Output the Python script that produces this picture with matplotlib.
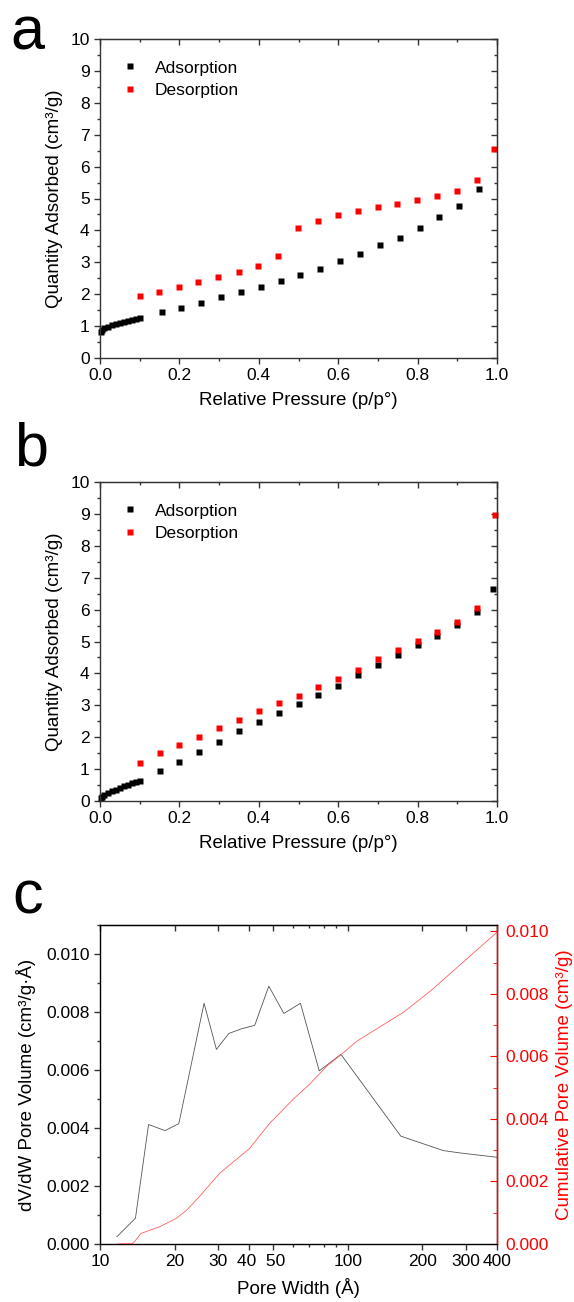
import numpy as np
import matplotlib
matplotlib.use('Agg')
import matplotlib.pyplot as plt
from matplotlib.ticker import MultipleLocator, FixedLocator, NullFormatter, FormatStrFormatter

plt.rcParams['font.family'] = ['Liberation Sans', 'DejaVu Sans']

# panel a - isotherm
a_ads_x = [0.002, 0.005, 0.01, 0.02, 0.03, 0.04, 0.05, 0.06, 0.07, 0.08, 0.09, 0.1,
           0.155, 0.205, 0.255, 0.305, 0.355, 0.405, 0.455, 0.505, 0.555, 0.605,
           0.655, 0.705, 0.755, 0.805, 0.855, 0.905, 0.955]
a_ads_y = [0.82, 0.88, 0.93, 0.98, 1.02, 1.06, 1.09, 1.12, 1.15, 1.18, 1.21, 1.25,
           1.43, 1.58, 1.73, 1.90, 2.08, 2.24, 2.41, 2.61, 2.80, 3.03,
           3.26, 3.53, 3.77, 4.09, 4.43, 4.77, 5.30]
a_des_x = [0.1, 0.149, 0.199, 0.248, 0.298, 0.349, 0.399, 0.448, 0.499, 0.549, 0.599,
           0.649, 0.699, 0.748, 0.798, 0.848, 0.898, 0.949, 0.993]
a_des_y = [1.94, 2.08, 2.22, 2.39, 2.54, 2.69, 2.87, 3.20, 4.06, 4.30, 4.47,
           4.61, 4.72, 4.83, 4.95, 5.08, 5.25, 5.59, 6.54]

# panel b - isotherm
b_ads_x = [0.003, 0.006, 0.01, 0.02, 0.03, 0.04, 0.05, 0.06, 0.07, 0.08, 0.09, 0.1,
           0.15, 0.2, 0.25, 0.3, 0.35, 0.4, 0.45, 0.5, 0.55, 0.6,
           0.65, 0.7, 0.75, 0.8, 0.85, 0.9, 0.95, 0.99]
b_ads_y = [0.10, 0.14, 0.18, 0.24, 0.30, 0.36, 0.42, 0.47, 0.51, 0.55, 0.59, 0.64,
           0.94, 1.21, 1.54, 1.84, 2.19, 2.47, 2.75, 3.04, 3.32, 3.61,
           3.95, 4.26, 4.57, 4.88, 5.18, 5.53, 5.94, 6.65]
b_des_x = [0.1, 0.15, 0.2, 0.25, 0.3, 0.35, 0.4, 0.45, 0.5, 0.55, 0.6,
           0.65, 0.7, 0.75, 0.8, 0.85, 0.9, 0.95, 0.995]
b_des_y = [1.20, 1.50, 1.75, 2.02, 2.29, 2.53, 2.82, 3.07, 3.30, 3.56, 3.81,
           4.10, 4.46, 4.74, 5.02, 5.30, 5.62, 6.06, 8.98]

# panel c - pore size distribution
c_w = [11.7, 13.9, 15.7, 18.3, 20.8, 26.3, 29.5, 33.1, 37.2, 42.1, 48.0,
       55.2, 64.4, 76.7, 93.8, 163.6, 243, 284, 400]
c_dvdw = [0.00025, 0.00089, 0.00412, 0.00391, 0.00415, 0.00830, 0.00671, 0.00726,
          0.00742, 0.00754, 0.00889, 0.00795, 0.00830, 0.00597, 0.00654, 0.00372,
          0.00322, 0.00314, 0.00299]
c_cw = [11.7, 13.6, 14.65, 17.4, 20.3, 22.3, 25.2, 30.4, 40.2, 48.4, 60.2,
        70.3, 82.1, 93.8, 108.5, 167.7, 214.9, 400]
c_cum = [0.0, 0.00002, 0.00034, 0.00055, 0.00082, 0.00107, 0.00152, 0.00226, 0.00306,
         0.00386, 0.00463, 0.00512, 0.00568, 0.00605, 0.00648, 0.00741, 0.00808, 0.00997]

fig = plt.figure(figsize=(5.74, 13.02), dpi=100)
W, H = 574, 1302


def box(x0, y0, x1, y1):
    return [x0 / W, 1 - y1 / H, (x1 - x0) / W, (y1 - y0) / H]


def style(ax):
    for s in ax.spines.values():
        s.set_linewidth(1.0)
        s.set_color('#333333')
    ax.tick_params(which='both', labelsize=12.5, color='#333333')
    ax.tick_params(which='major', length=4, width=1.0)
    ax.tick_params(which='minor', length=2.5, width=1.0)
    ax.tick_params(axis='x', which='both', direction='out', top=False)
    ax.tick_params(axis='y', which='both', direction='out', right=False)


def mirror_ticks(sec, major, minor):
    sec.set_ticks(major)
    sec.set_ticks(minor, minor=True)
    sec.tick_params(which='both', direction='in', labeltop=False, labelright=False,
                    color='#333333', width=1.0)
    sec.tick_params(which='major', length=4)
    sec.tick_params(which='minor', length=2.5)


def isotherm(rect, ax_x, ax_y, de_x, de_y):
    ax = fig.add_axes(rect)
    ax.plot(ax_x, ax_y, 's', color='black', ms=5, mec='none', label='Adsorption',
            clip_on=False)
    ax.plot(de_x, de_y, 's', color='red', ms=5, mec='none', label='Desorption',
            clip_on=False)
    ax.set_xlim(0, 1.0)
    ax.set_ylim(0, 10)
    ax.xaxis.set_major_locator(MultipleLocator(0.2))
    ax.xaxis.set_minor_locator(MultipleLocator(0.1))
    ax.xaxis.set_major_formatter(FormatStrFormatter('%.1f'))
    ax.yaxis.set_major_locator(MultipleLocator(1))
    ax.yaxis.set_minor_locator(MultipleLocator(0.5))
    style(ax)
    mirror_ticks(ax.secondary_xaxis('top'), np.arange(0, 1.01, 0.2), np.arange(0.1, 1.0, 0.2))
    mirror_ticks(ax.secondary_yaxis('right'), np.arange(0, 11, 1), np.arange(0.5, 10, 1))
    ax.set_xlabel('Relative Pressure (p/p°)', fontsize=13.5, labelpad=6)
    ax.set_ylabel('Quantity Adsorbed (cm³/g)', fontsize=13.5, labelpad=5)
    ax.legend(loc='upper left', bbox_to_anchor=(0.015, 0.982), frameon=False,
              fontsize=12.5, handletextpad=0.9, labelspacing=0.45, handlelength=1.0)
    return ax


isotherm(box(100, 39, 497, 358), a_ads_x, a_ads_y, a_des_x, a_des_y)
isotherm(box(100, 482, 497, 801), b_ads_x, b_ads_y, b_des_x, b_des_y)

# panel c
ax = fig.add_axes(box(100, 925, 497, 1244))
ax.plot(c_w, c_dvdw, color='#555555', lw=0.6)
ax.set_xscale('log')
ax.set_xlim(10, 400)
ax.set_ylim(0, 0.011)
ax.xaxis.set_major_locator(FixedLocator([10, 20, 30, 40, 50, 100, 200, 300, 400]))
ax.xaxis.set_minor_locator(FixedLocator([60, 70, 80, 90]))
ax.xaxis.set_minor_formatter(NullFormatter())
ax.set_xticklabels(['10', '20', '30', '40 ', ' 50', '100', '200', '300', '400'])
ax.yaxis.set_major_locator(MultipleLocator(0.002))
ax.yaxis.set_minor_locator(MultipleLocator(0.001))
ax.yaxis.set_major_formatter(FormatStrFormatter('%.3f'))
style(ax)
mirror_ticks(ax.secondary_xaxis('top'), [10, 20, 30, 40, 50, 100, 200, 300, 400], [60, 70, 80, 90])
ax.set_xlabel('Pore Width (Å)', fontsize=13.5, labelpad=6)
ax.set_ylabel('dV/dW Pore Volume (cm³/g·Å)', fontsize=13.5, labelpad=7)

ax2 = ax.twinx()
ax2.plot(c_cw, c_cum, color='#ff6060', lw=0.6)
ax2.set_ylim(0, 0.0102)
ax2.yaxis.set_major_locator(MultipleLocator(0.002))
ax2.yaxis.set_minor_locator(MultipleLocator(0.001))
ax2.yaxis.set_major_formatter(FormatStrFormatter('%.3f'))
ax2.spines['right'].set_color('red')
ax2.spines['right'].set_linewidth(1.0)
ax2.tick_params(axis='y', which='both', colors='red', direction='in', labelsize=12.5, pad=6)
ax2.tick_params(axis='y', which='major', length=5)
ax2.tick_params(axis='y', which='minor', length=3)
ax2.set_ylabel('Cumulative Pore Volume (cm³/g)', fontsize=13.5, color='red', labelpad=5)

# panel letters
fig.text(10 / W, 1 - 50 / H, 'a', fontsize=44, va='baseline')
fig.text(14 / W, 1 - 465 / H, 'b', fontsize=44, va='baseline')
fig.text(12 / W, 1 - 913 / H, 'c', fontsize=44, va='baseline')

fig.savefig('out.png', dpi=100)
